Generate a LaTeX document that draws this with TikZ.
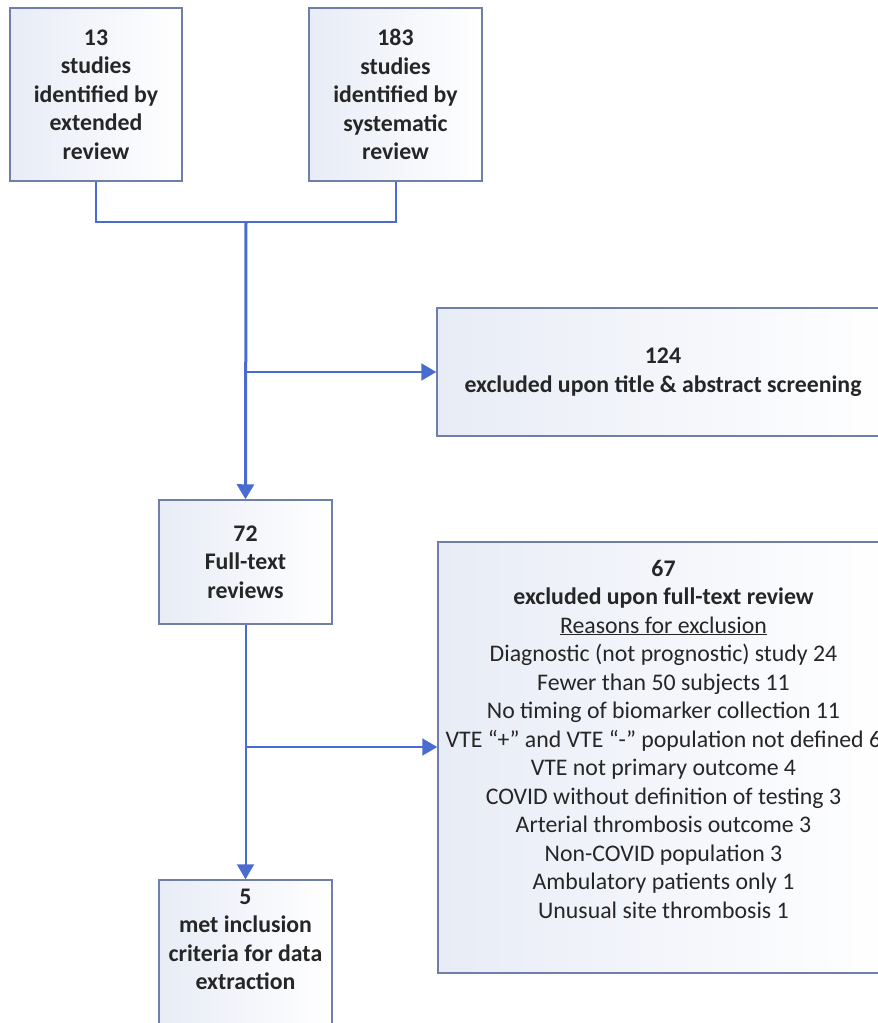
\documentclass[tikz,border=0pt]{standalone}
\usepackage{fontspec}
\setmainfont{Carlito}
\usepackage{tikz}
\usetikzlibrary{arrows.meta, positioning, calc}
\definecolor{prismLine}{HTML}{4A6CD0}
\definecolor{prismEdge}{HTML}{6F7FA8}
\definecolor{prismTint}{HTML}{E8ECF6}

\begin{document}
\begin{tikzpicture}[x=1pt, y=-1pt,
    font=\fontsize{23.8}{28.5}\selectfont,
    stepbox/.style={draw=prismEdge, line width=1.5pt, left color=prismTint, right color=white,
      align=center, inner sep=0pt, text=black!85},
    boldbox/.style={stepbox, font=\fontsize{23.8}{28.5}\selectfont\bfseries},
    link/.style={draw=prismLine, line width=2pt},
    flow/.style={link, -{Triangle[length=15pt, width=17pt]}}]

  \path[use as bounding box, clip] (0,0) rectangle (878,1023);

  % sources
  \node[boldbox, minimum width=172, minimum height=173]
    (ext) at (96,94.5) {13\\studies\\identified by\\extended\\review};
  \node[boldbox, minimum width=173, minimum height=173]
    (sys) at (395.5,94.5) {183\\studies\\identified by\\systematic\\review};

  % screening
  \node[boldbox, minimum width=452, minimum height=128]
    (screen) at (663,372) {124\\excluded upon title \& abstract screening};
  \node[boldbox, minimum width=173, minimum height=124]
    (full) at (245.5,562) {72\\Full-text\\reviews};

  % full text
  \node[stepbox, minimum width=451, minimum height=431]
    (fullex) at (663.5,757.5) {\textbf{67}\\\textbf{excluded upon full-text review}\\
      \underline{Reasons for exclusion}\\
      Diagnostic (not prognostic) study 24\\
      Fewer than 50 subjects 11\\
      No timing of biomarker collection 11\\
      VTE “+” and VTE “-” population not defined 6\\
      VTE not primary outcome 4\\
      COVID without definition of testing 3\\
      Arterial thrombosis outcome 3\\
      Non-COVID population 3\\
      Ambulatory patients only 1\\
      Unusual site thrombosis 1\\ \strut};
  \node[boldbox, minimum width=173, minimum height=156]
    (incl) at (245.5,958) {5\\met inclusion\\criteria for data\\extraction\\ \strut};

  \coordinate (join) at (246,222);
  \coordinate (split) at (246,747);

  \draw[link] (ext.south) |- (join) -| (sys.south);
  \draw[flow, line width=3pt] (join) -- (full.north);
  \draw[flow] (join |- screen.west) -- (screen.west);
  \draw[flow] (full.south) -- (incl.north);
  \draw[flow] (split) -- (split -| fullex.west);
\end{tikzpicture}
\end{document}
